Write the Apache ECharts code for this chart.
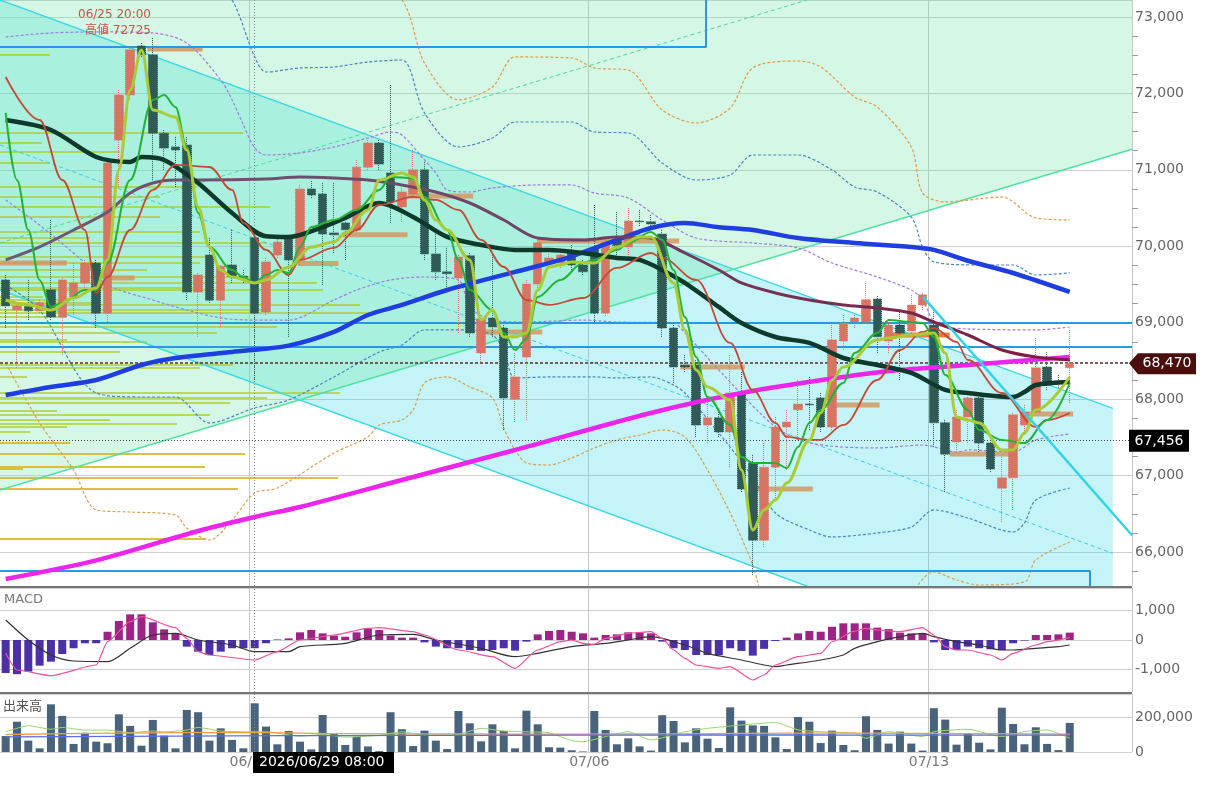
<!DOCTYPE html>
<html lang="ja">
<head>
<meta charset="UTF-8" />
<title>Chart</title>
<script src="https://cdn.jsdelivr.net/npm/echarts@6.0.0/dist/echarts.min.js"></script>
<style>
  html, body { margin: 0; padding: 0; background: #fff; }
  #chart { width: 1205px; height: 787px; }
</style>
</head>
<body>
<div id="chart"></div>
<script>
// ---- data ----
// candles: [open, close, low, high]
var ohlc = [
  [69560,69220,68930,69625],[69165,69220,68410,69260],[69220,69155,69035,69560],[69155,69260,69125,69300],
  [69430,69075,69035,70345],[69075,69560,68575,69585],[69335,69520,69100,69780],[69520,69780,69430,69820],
  [69780,69125,68930,69820],[69125,71090,69010,71130],[71390,71980,70775,72045],[71980,72570,71915,72595],
  [72620,72505,72475,72660],[72505,71480,70865,72725],[71480,71285,71000,71520],[71300,71260,70775,71430],
  [71325,69400,69295,71430],[69400,69625,68815,69650],[69885,69295,69260,70110],[69295,69740,68945,69755],
  [69755,69600,69520,70215],[69610,69590,69520,69690],[70110,69125,68250,70150],[69140,69795,69100,69845],
  [69885,70055,69845,70150],[70110,69820,68815,70120],[69820,70750,69755,70800],[70750,70670,70630,70855],
  [70685,70160,69495,70830],[70175,70150,69910,70830],[70305,70215,69820,70320],[70215,71035,70190,71130],
  [71035,71350,71000,71390],[71350,71075,71000,71390],[70960,70580,70305,72110],[70515,70710,70320,70765],
  [70685,71000,70645,71260],[71000,69900,69820,71105],[69900,69665,69560,70190],[69665,69640,69465,69980],
  [69585,69860,68865,69885],[69875,68865,68815,69910],[68605,69050,68485,69075],[69060,68945,68815,69910],
  [68930,68015,67595,68970],[68000,68290,67700,68605],[68550,69505,67725,69560],[69505,70045,69455,70085],
  [69781,69847,69760,69900],[69780,69885,69715,69950],[69910,69755,69690,70015],[69755,69665,69625,69820],
  [69980,69125,69010,70540],[69125,70045,69090,70085],[70070,70010,69860,70450],[69990,70330,69860,70500],
  [70330,70320,70265,70475],[70320,70290,70240,70410],[70160,68930,68815,70215],[68930,68420,68210,68970],
  [68445,68420,68355,68575],[68445,67660,67505,68510],[67660,67755,67425,67990],[67755,67570,67505,67830],
  [67570,68080,67110,68575],[68080,66825,66785,68355],[67165,66155,65700,67270],[66155,67110,66065,67425],
  [67110,67635,66680,67765],[67635,67700,67075,67860],[67860,67935,67505,68250],[67935,67925,67595,68290],
  [68015,67635,67570,68080],[67635,68775,67595,68970],[68760,68995,68645,69100],[69010,69060,68930,69100],
  [69010,69300,68995,69520],[69310,68815,68605,69350],[68760,68970,68605,69035],[68970,68865,68250,69140],
  [68890,69230,68865,69365],[69230,69365,69165,69390],[68970,67690,67375,69165],[67690,67280,66785,67730],
  [67440,67765,67335,67860],[67765,68015,67425,68030],[68015,67425,67310,68055],[67425,67085,67045,67465],
  [66835,66970,66395,67245],[66970,67795,66550,67820],[67660,67830,67530,67925],[67830,68410,67820,68800],
  [68420,68185,68120,68615],[68235,68210,68150,68315],[68410,68470,67950,68905]
];

// moving averages, [bar index, price]
var maMagenta = [[0,65647],[8,65890],[17,66275],[22,66458],[26,66589],[35,66942],[45,67335],[57,67819],[65,68080],[74,68290],[79,68381],[85,68447],[94,68551]];
var maBlue = [[0,68054],[4,68159],[8,68250],[12,68447],[15,68538],[20,68617],[25,68700],[29,68879],[32,69101],[35,69232],[39,69428],[45,69664],[49,69821],[54,70083],[57,70239],[60,70305],[63,70250],[66,70213],[70,70108],[75,70043],[80,69991],[82,69952],[85,69810],[89,69650],[94,69402]];
var maDark = [[0,71652],[4,71521],[8,71168],[11,71103],[12,71168],[14,71129],[17,70828],[20,70436],[23,70130],[25,70120],[28,70250],[30,70370],[33,70566],[36,70383],[39,70122],[42,70017],[45,69952],[48,69952],[51,69912],[54,69847],[56,69821],[58,69690],[60,69520],[63,69206],[65,68996],[68,68813],[71,68735],[74,68538],[77,68447],[80,68342],[83,68120],[85,68080],[89,68028],[90,68093],[91,68185],[94,68224]];
var maPlum = [[0,69821],[3,69991],[6,70213],[9,70449],[11,70697],[13,70828],[15,70867],[17,70867],[23,70880],[26,70907],[29,70893],[32,70867],[35,70802],[38,70710],[41,70566],[44,70344],[47,70108],[51,70083],[54,70122],[57,70108],[60,69912],[63,69690],[65,69520],[68,69389],[71,69297],[74,69232],[77,69193],[80,69127],[82,69009],[85,68839],[88,68643],[91,68551],[94,68512]];
var maRed = [[0,72215],[3,71652],[5,70867],[7,70213],[8,69389],[9,69598],[11,70213],[13,70737],[15,71064],[18,71037],[20,70737],[21,70305],[23,69952],[25,69624],[26,69821],[29,69978],[31,70213],[33,70540],[36,70645],[38,70606],[40,70475],[42,70083],[44,69729],[46,69297],[48,69232],[51,69323],[54,69716],[57,69912],[58,69847],[61,69559],[64,68735],[66,68120],[68,67688],[69,67505],[71,67466],[72,67466],[74,67662],[77,68250],[79,68643],[81,68879],[82,68930],[84,68748],[85,68512],[88,68080],[91,67636],[92,67727],[94,67819]];
var maGreen = [[0,71744],[1,70867],[2,70213],[3,69559],[4,69206],[5,69258],[7,69428],[8,69428],[9,69781],[11,70867],[13,71914],[14,71979],[15,71822],[16,71299],[17,70436],[18,69991],[20,69690],[21,69598],[22,69520],[23,69624],[24,69690],[25,69650],[26,69991],[27,70252],[29,70344],[31,70475],[33,70737],[34,70907],[36,70893],[37,70645],[39,70213],[40,69821],[41,69428],[43,69166],[44,68866],[45,68643],[46,68790],[47,69337],[49,69559],[51,69781],[52,69821],[54,69952],[55,70043],[57,70187],[58,70083],[59,69690],[60,69075],[61,68551],[62,68028],[64,67662],[65,67243],[66,67165],[68,67165],[69,67099],[70,67374],[71,67688],[72,67858],[74,68211],[75,68604],[77,68866],[78,69036],[80,69009],[81,68996],[82,68813],[83,68316],[85,67858],[86,67596],[88,67466],[90,67427],[92,67727],[94,68211]];
var maLime = [[0,69297],[2,69232],[4,69166],[6,69323],[8,69454],[9,69821],[10,70998],[11,72045],[12,72568],[13,71783],[15,71691],[16,71260],[17,70514],[18,69991],[19,69690],[20,69598],[22,69520],[23,69559],[25,69729],[27,69991],[29,70056],[30,70174],[32,70475],[33,70867],[35,70959],[36,70907],[37,70606],[38,70344],[39,70213],[41,69821],[42,69036],[43,69166],[44,68813],[45,68813],[46,68866],[47,69428],[48,69729],[49,69755],[50,69794],[52,69781],[54,69991],[56,70122],[57,70122],[59,69520],[60,68905],[61,68381],[62,68159],[64,67989],[65,67073],[66,66288],[67,66550],[68,66680],[69,66903],[71,67466],[72,67819],[73,68250],[74,68420],[77,68774],[78,68800],[80,68839],[82,68866],[83,68604],[84,67766],[85,67727],[86,67688],[88,67335],[89,67335],[90,67557],[91,67858],[94,68290]];

// bands
var bandPurpleUp = [[0,72738],[4,72791],[9,72804],[13,72791],[16,72660],[19,72176],[20,71914],[21,71587],[22,71286],[23,71194],[26,71221],[29,71299],[32,71417],[34,71495],[35,71456],[37,71129],[38,70959],[39,70737],[41,70710],[43,70763],[47,70802],[50,70802],[52,70697],[55,70632],[58,70344],[61,70108],[66,70043],[70,69978],[73,69781],[77,69598],[80,69428],[81,69297],[82,69009],[83,68944],[85,68918],[91,68905],[94,68944]];
var bandPurpleLo = [[0,70606],[3,70278],[7,69781],[9,69493],[13,69297],[16,69166],[19,69062],[22,69034],[25,69034],[29,69297],[31,69428],[34,69559],[37,69598],[40,69559],[41,69206],[43,69034],[46,69009],[51,69034],[54,69009],[59,68996],[60,68866],[63,68381],[68,67636],[71,67426],[77,67361],[81,67400],[84,67308],[85,67335],[89,67308],[91,67466],[94,67544]];
var bandBlueUp = [[0,73850],[8,74000],[14,73877],[18,73484],[20,73222],[22,72477],[23,72280],[26,72333],[29,72346],[32,72411],[35,72437],[37,71744],[40,71299],[43,71417],[45,71626],[50,71626],[52,71495],[55,71482],[58,71090],[61,70867],[64,70933],[66,71194],[70,71194],[73,70998],[75,70776],[77,70710],[80,70383],[81,69991],[82,69795],[86,69755],[89,69755],[91,69624],[94,69651]];
var bandBlueLo = [[0,69493],[3,69166],[8,68080],[12,68028],[15,68028],[18,67688],[22,67884],[25,67989],[29,68290],[33,68617],[35,68709],[37,68905],[41,68905],[43,68839],[44,68643],[45,68277],[48,68290],[52,68290],[54,68277],[57,68290],[59,68185],[60,68080],[63,67557],[66,66981],[68,66510],[71,66288],[73,66197],[77,66249],[80,66327],[82,66550],[85,66445],[89,66262],[90,66380],[91,66680],[94,66837]];
var bandOrangeUp = [[0,74910],[20,74870],[30,73745],[35,73222],[37,72398],[40,71914],[43,72084],[45,72477],[50,72463],[52,72333],[55,72306],[58,71783],[61,71613],[64,71809],[66,72333],[70,72424],[72,72346],[75,71953],[77,71822],[80,71299],[81,70697],[83,70580],[88,70645],[91,70370],[94,70344]];
var bandOrangeLo = [[0,68473],[3,67688],[6,67073],[8,66550],[11,66523],[15,66484],[16,66314],[18,66157],[20,66419],[22,66772],[24,66837],[29,67295],[32,67505],[33,67662],[35,67727],[36,67858],[37,68211],[39,68290],[41,68159],[43,68015],[44,67622],[45,67335],[46,67165],[48,67138],[50,67230],[52,67360],[54,67466],[56,67530],[58,67597],[60,67505],[62,67073],[64,66510],[66,65830],[67,65372],[70,64849],[75,64718],[79,65241],[82,65738],[84,65634],[86,65568],[90,65607],[91,65895],[94,66131]];

// MACD
var macdHist = [-1120,-1160,-1070,-870,-735,-475,-280,-110,-110,280,
  645,870,870,600,360,225,-225,-395,-510,-395,
  -280,-280,-280,-110,20,55,260,340,225,150,
  110,260,395,340,150,80,80,-80,-225,-280,
  -280,-340,-370,-340,-280,-360,-55,190,305,340,
  280,225,80,170,190,260,260,225,-55,-280,
  -340,-510,-510,-510,-280,-370,-530,-300,-35,80,
  225,305,280,450,565,565,565,420,370,250,
  225,225,-80,-340,-340,-225,-280,-315,-340,-110,
  -20,170,170,190,250];
var macdLine = [[0,-452],[1,-1017],[4,-1209],[8,-847],[9,-56],[11,621],[12,790],[15,418],[16,56],[17,-395],[18,-508],[22,-678],[24,-395],[26,0],[29,170],[32,395],[33,418],[36,282],[37,170],[40,-339],[43,-565],[45,-960],[47,-339],[49,-56],[50,0],[51,-113],[52,-147],[53,56],[55,226],[57,282],[58,56],[59,-339],[60,-621],[61,-847],[63,-960],[64,-904],[66,-1356],[67,-1186],[68,-847],[70,-565],[72,-452],[73,-60],[75,300],[76,395],[77,339],[79,282],[81,418],[82,170],[83,-226],[84,-339],[85,-339],[87,-508],[88,-678],[89,-452],[91,-170],[92,-56],[94,80]];
var macdSignal = [[0,678],[2,0],[4,-508],[6,-712],[9,-734],[11,-282],[13,170],[15,226],[17,0],[20,-170],[22,-395],[25,-395],[26,-226],[30,-113],[33,170],[36,192],[38,0],[42,-282],[45,-565],[47,-452],[50,-226],[53,-113],[55,0],[57,113],[60,-170],[62,-452],[65,-678],[67,-847],[68,-904],[69,-847],[72,-678],[74,-508],[75,-282],[77,-56],[79,113],[81,226],[82,113],[84,-56],[86,-170],[88,-339],[89,-339],[91,-282],[93,-226],[94,-170]];

// volume (thousands)
var volume = [91,173,65,21,272,206,46,110,59,50, 215,149,36,183,93,21,240,227,65,135,
  69,21,278,145,44,120,59,15,211,107, 40,87,32,5,227,130,34,122,65,17,
  234,164,61,158,120,21,236,158,27,25, 10,3,234,126,44,78,32,8,210,177,
  55,135,76,23,255,179,152,149,84,17, 200,173,51,122,40,10,204,126,48,116,
  48,8,250,185,42,107,53,15,253,160, 44,141,46,11,166];
var volMaGreen = [[0,115],[2,150],[4,130],[5,140],[7,125],[9,125],[11,110],[13,120],[14,115],[16,125],[17,140],[19,120],[21,115],[23,115],[26,90],[28,100],[30,85],[33,95],[35,115],[37,95],[40,100],[42,135],[44,120],[46,115],[48,110],[50,65],[51,59],[53,88],[55,116],[57,69],[60,116],[62,135],[65,154],[68,168],[70,126],[72,116],[75,107],[76,78],[78,116],[81,88],[82,116],[85,130],[88,88],[90,116],[92,126],[94,78]];
var volMaOrange = [[0,100],[10,108],[20,112],[30,105],[40,103],[50,102],[60,104],[70,108],[80,106],[90,104],[94,102]];
var volMaBlue = [[0,86],[10,89],[20,92],[30,94],[40,95],[50,96],[60,97],[70,97],[80,96],[94,96]];

// price-volume profile: [price, amount]
var profile = [[72503,50],[71482,243],[71351,42],[71234,120],[71090,50],[70776,197],[70645,160],[70514,270],[70383,160],[70187,200],[70109,90],[70043,267],[69860,213],[69781,200],[69690,147],[69598,253],[69520,317],[69454,200],[69428,323],[69337,43],[69297,70],[69258,100],[69232,360],[69166,267],[69127,370],[69075,67],[68944,277],[68866,217],[68774,67],[68748,147],[68617,120],[68447,233],[68408,200],[68290,27],[68080,340],[68015,267],[67950,230],[67845,57],[67793,210],[67727,110],[67675,177],[67636,67],[67570,30],[67426,70],[67282,245],[67112,205],[67086,23],[66968,338],[66824,238],[66170,205]];
var PROFILE_MAX = 1132;

// short horizontal pivot segments: [from bar, to bar, price]
var pivots = [[12.5,17.4,72581],[-0.5,5.4,69781],[9.2,11.4,69585],[25.8,29.4,69775],[29.7,35.5,70150],[35.5,41.3,70658],[42.2,47.4,68879],[47.0,59.5,70070],[59.6,65.3,68420],[65.8,71.3,66824],[73.4,77.2,67923],[83.4,89.2,67282],[89.6,94.3,67806]];
var pivotsHot = [[77.9,83.4,68840]];

// levels
var hLevels = [69000, 68682];
var lastPrice = 68470;
var refPrice = 67456;
var highNote = ['06/25 20:00', '高値 72725'];

// trend drawings: [bar, price] points
var cyanUpper = [[-0.5,73222],[97.8,67879]];
var cyanMid = [[-0.5,71325],[97.8,65982]];
var cyanLower = [[-0.5,69428],[80,65053]];
var cyanFill = [[-0.5,73222],[97.8,67879],[97.8,65555],[70.76,65555],[-0.5,69428]];
var greenLower = [[-0.5,66811],[99.5,71269]];
var greenMid = [[-0.5,70043],[70.8,73222]];
var greenFill = [[-0.5,66811],[99.5,71269],[99.5,73222],[-0.5,73222]];
var steepLine = [[81.04,69337],[99.5,66219]];
var boxTop = [[-0.5,72607],[61.87,72607],[61.87,73400]];
var boxBottom = [[-0.5,65751],[95.79,65751],[95.79,65300]];

// categories: 4-hour bars, Mon 08:00 .. Sat 04:00
var categories = [];
var weekStarts = [];
(function () {
  var t = new Date(2026, 5, 23, 16, 0);
  function p2(n) { return (n < 10 ? '0' : '') + n; }
  for (var i = 0; i < 100; i++) {
    if (t.getDay() === 1 && t.getHours() === 8) weekStarts.push(i);
    categories.push(p2(t.getMonth() + 1) + '/' + p2(t.getDate()) + ' ' + p2(t.getHours()) + ':00');
    t = new Date(t.getTime() + 4 * 3600 * 1000);
    if (t.getDay() === 6 && t.getHours() >= 8) {
      t = new Date(t.getFullYear(), t.getMonth(), t.getDate() + 2, 8, 0);
    }
  }
})();

var FONT = "'DejaVu Sans', 'Noto Sans CJK JP', sans-serif";
var UP = '#d77462', DOWN = '#2f5a56';
function fmt(v) { return Math.round(v).toLocaleString('en-US'); }

var chart = echarts.init(document.getElementById('chart'));

// slow lines: plain smoothing; fast lines: monotone smoothing
function line(name, data, color, width, fast, extra) {
  var s = {
    type: 'line', name: name, data: data, xAxisIndex: 0, yAxisIndex: 0,
    symbol: 'none', smooth: fast ? 0.35 : 0.3, silent: true, z: 6,
    lineStyle: { color: color, width: width }
  };
  if (fast) s.smoothMonotone = 'x';
  for (var k in extra) s[k] = extra[k];
  return s;
}
function band(data, color) {
  return line('band', data, color, 1.2, false, { z: 4, lineStyle: { color: color, width: 1.2, type: [3, 2] } });
}
function draw(data, color, width, type, z) {
  return {
    type: 'line', data: data, xAxisIndex: 1, yAxisIndex: 0, symbol: 'none', silent: true,
    z: z || 3, lineStyle: { color: color, width: width, type: type || 'solid' }
  };
}
function polygon(points, fill) {
  return {
    type: 'custom', xAxisIndex: 1, yAxisIndex: 0, silent: true, z: 1, clip: true,
    data: [[0, 0]],
    renderItem: function (params, api) {
      return {
        type: 'polygon',
        shape: { points: points.map(function (p) { return api.coord(p); }) },
        style: { fill: fill }
      };
    }
  };
}
function segments(data, fill, h) {
  return {
    type: 'custom', xAxisIndex: 1, yAxisIndex: 0, silent: true, z: 3, clip: true,
    data: data,
    renderItem: function (params, api) {
      var a = api.coord([api.value(0), api.value(2)]);
      var b = api.coord([api.value(1), api.value(2)]);
      return { type: 'rect', shape: { x: a[0], y: a[1] - h / 2, width: b[0] - a[0], height: h }, style: { fill: fill } };
    }
  };
}

var splitWeeks = { show: true, interval: function (i) { return weekStarts.indexOf(i) >= 0; }, lineStyle: { color: '#c8c8c8' } };
var catAxis = function (grid, showLabel) {
  return {
    type: 'category', gridIndex: grid, data: categories, boundaryGap: true,
    axisLine: { show: false, onZero: false }, axisTick: { show: false },
    axisLabel: showLabel ? {
      show: true, interval: function (i) { return weekStarts.indexOf(i) >= 0; },
      formatter: function (v) { return v.slice(0, 5); },
      color: '#777', fontSize: 14, fontFamily: FONT, margin: 3, padding: [0, 10, 0, 0]
    } : { show: false },
    splitLine: splitWeeks
  };
};
var valAxis = function (grid, min, max, split, showMin) {
  return {
    type: 'value', gridIndex: grid, position: 'right', min: min, max: max, splitNumber: split,
    axisLine: { show: false, onZero: false }, axisTick: { show: false },
    axisLabel: { color: '#666', fontSize: 14, fontFamily: FONT, margin: 3, formatter: fmt,
      showMinLabel: !!showMin, showMaxLabel: false },
    splitLine: { show: true, lineStyle: { color: '#cfcfcf' } }
  };
};

var cross = categories[22];
var mainY = valAxis(0, 65555, 73222, 8, false);
mainY.axisTick = { show: true, length: 0, lineStyle: { color: 'rgba(0,0,0,0)' } };
mainY.minorTick = { show: true, splitNumber: 4, length: 6, lineStyle: { color: '#999' } };

var option = {
  animation: false,
  backgroundColor: '#fff',
  grid: [
    { left: 0, top: 0, width: 1132, height: 586, outerBoundsMode: 'none' },
    { left: 0, top: 588, width: 1132, height: 104, outerBoundsMode: 'none' },
    { left: 0, top: 694, width: 1132, height: 58, outerBoundsMode: 'none' }
  ],
  xAxis: [
    catAxis(0, false),
    { type: 'value', gridIndex: 0, min: -0.5, max: 99.5, show: false, axisLine: { onZero: false } },
    { type: 'value', gridIndex: 0, min: 0, max: PROFILE_MAX, show: false, axisLine: { onZero: false } },
    catAxis(1, false),
    catAxis(2, true)
  ],
  yAxis: [
    mainY,
    valAxis(1, -1763, 1763, 4, false),
    valAxis(2, 0, 331000, 2, true)
  ],
  series: [
    polygon(cyanFill, 'rgba(60,220,228,0.30)'),
    polygon(greenFill, 'rgba(100,230,160,0.28)'),
    {
      type: 'custom', xAxisIndex: 2, yAxisIndex: 0, silent: true, z: 2, clip: true,
      data: profile,
      renderItem: function (params, api) {
        var price = api.value(0);
        var a = api.coord([0, price]);
        var b = api.coord([api.value(1), price]);
        var gold = price < 67500;
        return { type: 'rect', shape: { x: a[0], y: a[1] - 1, width: b[0] - a[0], height: 2 },
          style: { fill: gold ? 'rgba(214,182,30,0.85)' : 'rgba(176,206,50,0.75)' } };
      }
    },
    draw(cyanUpper, '#3fd8e4', 1.5),
    draw(cyanMid, '#3fcde4', 1, [4, 3]),
    draw(cyanLower, '#3fd8e4', 1.5),
    draw(greenLower, '#4fe2a0', 1.5),
    draw(greenMid, '#4fd896', 1, [4, 3]),
    draw(steepLine, '#35d2e6', 2.5, 'solid', 7),
    draw(boxTop, '#2a98dc', 2, 'solid', 5),
    draw(boxBottom, '#2a98dc', 2, 'solid', 5),
    segments(pivots, 'rgba(212,150,96,0.85)', 5),
    segments(pivotsHot, 'rgba(240,110,50,0.9)', 5),
    band(bandPurpleUp, '#a07ce0'),
    band(bandPurpleLo, '#a07ce0'),
    band(bandBlueUp, '#4a86c0'),
    band(bandBlueLo, '#4a86c0'),
    band(bandOrangeUp, '#e09a48'),
    band(bandOrangeLo, '#d9a050'),
    {
      type: 'candlestick', xAxisIndex: 0, yAxisIndex: 0, data: ohlc, barWidth: 9, z: 5, silent: true,
      itemStyle: { color: UP, color0: DOWN, borderColor: UP, borderColor0: DOWN, borderWidth: 1, borderType: 'dotted' },
      markLine: {
        symbol: 'none', silent: true, label: { show: false },
        data: [
          { yAxis: hLevels[0], lineStyle: { color: '#2a98dc', width: 2, type: 'solid' } },
          { yAxis: hLevels[1], lineStyle: { color: '#2a98dc', width: 2, type: 'solid' } },
          { yAxis: lastPrice, lineStyle: { color: '#5a2a2a', width: 1.5, type: [3, 2] } },
          { yAxis: refPrice, lineStyle: { color: '#444', width: 1, type: [1, 2] } },
          { xAxis: cross, lineStyle: { color: '#888', width: 1, type: [1, 2] } }
        ]
      }
    },
    line('ma-magenta', maMagenta, '#ec24ec', 4.5, false),
    line('ma-blue', maBlue, '#1f3ee0', 4.5, false),
    line('ma-plum', maPlum, new echarts.graphic.LinearGradient(0, 0, 1, 0, [
      { offset: 0, color: '#6c5a7a' }, { offset: 0.5, color: '#6f4466' }, { offset: 1, color: '#7e1a40' }]), 3, false),
    line('ma-dark', maDark, '#0f3a2b', 4.5, false),
    line('ma-red', maRed, '#c44a38', 1.8, true),
    line('ma-green', maGreen, '#24b236', 2, true),
    line('ma-lime', maLime, '#a9cc35', 3, true),
    {
      type: 'bar', xAxisIndex: 3, yAxisIndex: 1, data: macdHist, barWidth: 8, silent: true,
      itemStyle: { color: function (p) { return p.value >= 0 ? '#9c2486' : '#4b30a8'; } },
      markLine: { symbol: 'none', silent: true, label: { show: false },
        data: [{ xAxis: cross, lineStyle: { color: '#888', width: 1, type: [1, 2] } }] }
    },
    { type: 'line', xAxisIndex: 3, yAxisIndex: 1, data: macdSignal, symbol: 'none', smooth: 0.3, silent: true,
      lineStyle: { color: '#333', width: 1.2 }, z: 4 },
    { type: 'line', xAxisIndex: 3, yAxisIndex: 1, data: macdLine, symbol: 'none', smooth: 0.2, smoothMonotone: 'x', silent: true,
      lineStyle: { color: '#f0509a', width: 1.2 }, z: 4 },
    {
      type: 'bar', xAxisIndex: 4, yAxisIndex: 2, data: volume.map(function (v) { return v * 1000; }),
      barWidth: 8, silent: true, itemStyle: { color: '#4a637c' },
      markLine: { symbol: 'none', silent: true, label: { show: false },
        data: [{ xAxis: cross, lineStyle: { color: '#888', width: 1, type: [1, 2] } }] }
    },
    { type: 'line', xAxisIndex: 4, yAxisIndex: 2, data: volMaGreen.map(function (d) { return [d[0], d[1] * 1000]; }),
      symbol: 'none', smooth: 0.2, silent: true, lineStyle: { color: '#95d86e', width: 1 }, z: 4 },
    { type: 'line', xAxisIndex: 4, yAxisIndex: 2, data: volMaOrange.map(function (d) { return [d[0], d[1] * 1000]; }),
      symbol: 'none', smooth: 0.3, silent: true, lineStyle: { color: '#f0a040', width: 1.3 }, z: 4 },
    { type: 'line', xAxisIndex: 4, yAxisIndex: 2, data: volMaBlue.map(function (d) { return [d[0], d[1] * 1000]; }),
      symbol: 'none', smooth: 0.3, silent: true, lineStyle: { color: '#5a6ee8', width: 1.3 }, z: 4 }
  ]
};
chart.setOption(option);

// price tags and panel texts
var yLast = chart.convertToPixel({ yAxisIndex: 0 }, lastPrice);
var yRef = chart.convertToPixel({ yAxisIndex: 0 }, refPrice);
var txt = function (x, y, s, color, size, align) {
  return { type: 'text', x: x, y: y, z: 50, style: { text: s, fill: color, font: size + 'px ' + FONT, align: align || 'left', verticalAlign: 'middle' } };
};
chart.setOption({
  graphic: [
    { type: 'line', z: 40, shape: { x1: 0, y1: 587, x2: 1132, y2: 587 }, style: { stroke: '#777', lineWidth: 2 } },
    { type: 'line', z: 40, shape: { x1: 0, y1: 693, x2: 1132, y2: 693 }, style: { stroke: '#777', lineWidth: 2 } },
    txt(4, 600, 'MACD', '#777', 13),
    txt(3, 707, '出来高', '#555', 13),
    txt(151, 15, highNote[0], '#c5564a', 12, 'right'),
    txt(151, 31, highNote[1], '#c5564a', 12, 'right'),
    { type: 'polygon', z: 45, shape: { points: [[1129, yLast], [1138, yLast - 10], [1196, yLast - 10], [1196, yLast + 11], [1138, yLast + 11]] },
      style: { fill: '#4b0e0e' } },
    txt(1167, yLast + 0.5, fmt(lastPrice), '#fff', 14, 'center'),
    { type: 'rect', z: 45, shape: { x: 1129, y: yRef - 11, width: 60, height: 22 }, style: { fill: '#000' } },
    txt(1159, yRef + 0.5, fmt(refPrice), '#fff', 14, 'center'),
    { type: 'rect', z: 45, shape: { x: 253, y: 752, width: 141, height: 21 }, style: { fill: '#000' } },
    txt(259, 762.5, '2026/06/29 08:00', '#fff', 14)
  ]
});
</script>
</body>
</html>
